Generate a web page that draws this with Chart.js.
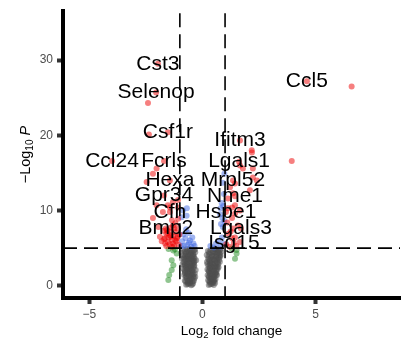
<!DOCTYPE html>
<html>
<head>
<meta charset="utf-8">
<script src="https://cdn.jsdelivr.net/npm/chart.js@4"></script>
<style>
  html, body { margin: 0; padding: 0; background: #fff; }
  canvas { display: block; }
</style>
</head>
<body>
<canvas id="volcano" width="409" height="340"></canvas>
<script>
// Not significant (grey)
const nsFC = [
  -0.72,-0.61,-0.5,-0.42,-0.66,-0.55,
  -0.78,-0.69,-0.58,-0.47,-0.38,-0.74,-0.52,-0.41,
  -0.81,-0.7,-0.6,-0.49,-0.39,-0.77,-0.63,-0.44,-0.55,
  -0.84,-0.73,-0.62,-0.5,-0.4,-0.8,-0.67,-0.56,-0.45,-0.36,-0.71,
  -0.83,-0.6,-0.49,-0.38,-0.76,-0.65,-0.54,-0.42,-0.81,-0.69,-0.58,-0.46,-0.35,
  -0.86,-0.74,-0.62,-0.51,-0.4,-0.32,-0.79,-0.67,-0.55,-0.44,-0.85,-0.33,
  -0.28,-0.3,-0.91,-0.93,-0.32,
  -0.66,-0.55,-0.45,-0.75,-0.64,-0.53,-0.43,-0.72,-0.6,-0.48,-0.36,-0.78,-0.66,-0.55,-0.44,-0.34,
  -0.79,-0.68,-0.57,-0.47,-0.37,-0.73,-0.61,-0.5,-0.39,-0.88,-0.78,-0.66,-0.55,-0.45,-0.35,
  -0.82,-0.7,-0.6,-0.49,-0.38,-0.75,-0.63,-0.52,-0.41,
  -0.73,-0.6,-0.49,-0.38,-0.7,-0.58,
  0.28,0.39,0.5,0.33,0.45,0.56,
  0.25,0.36,0.48,0.58,0.3,0.42,0.53,
  0.23,0.34,0.46,0.57,0.64,0.28,0.4,0.52,0.62,
  0.22,0.33,0.45,0.56,0.67,0.27,0.39,0.5,0.61,0.7,0.35,
  0.2,0.31,0.43,0.55,0.66,0.74,0.25,0.37,0.49,0.6,0.71,0.79,
  0.19,0.3,0.42,0.53,0.64,0.75,0.83,0.24,0.36,0.47,0.58,0.69,0.8,
  0.34,0.45,0.52,0.3,0.42,0.53,0.36,0.47,0.28,0.4,0.51,0.62,0.33,0.45,0.57,
  0.27,0.38,0.5,0.62,0.71,0.32,0.44,0.55,0.66,0.22,0.34,0.46,0.58,0.68,0.77,
  0.3,0.42,0.53,0.64,0.74,0.8,0.27,0.41,0.52,0.63,
  0.46,0.58,0.7,0.3,0.52,0.63,0.75
];
const nsP = [
  0.12,0.25,0.08,0.31,0.44,0.52,
  0.71,0.93,0.77,0.88,0.66,1.15,1.08,1.21,
  1.42,1.55,1.33,1.61,1.47,1.86,1.79,1.93,2.02,
  2.21,2.37,2.18,2.44,2.29,2.68,2.75,2.62,2.83,2.71,2.97,
  3.12,3.05,3.21,3.09,3.43,3.38,3.56,3.47,3.77,3.85,3.71,3.92,3.66,
  4.08,4.21,4.05,4.3,4.17,4.44,4.55,4.62,4.71,4.58,4.86,4.81,
  3.4,2.1,3.6,4.4,1.2,
  0.2,0.33,0.18,0.58,0.62,0.97,0.55,1.3,1.25,1.38,0.95,1.68,1.68,1.72,1.74,1.65,
  2.05,2.12,2.28,2.1,2.52,2.55,2.48,2.62,2.93,2.85,2.88,3.22,3.0,3.32,3.3,
  3.58,3.62,3.55,3.7,3.85,4.0,3.98,4.12,4.05,
  4.42,4.5,4.46,4.68,4.85,4.92,
  0.1,0.22,0.09,0.45,0.5,0.35,
  0.72,0.86,0.7,0.91,1.12,1.05,1.19,
  1.38,1.52,1.35,1.58,1.41,1.85,1.77,1.93,1.81,
  2.16,2.3,2.12,2.38,2.22,2.66,2.59,2.78,2.64,2.85,2.98,
  3.14,3.27,3.08,3.33,3.19,3.45,3.6,3.72,3.55,3.79,3.66,3.9,
  4.1,4.24,4.06,4.35,4.18,4.29,4.52,4.62,4.74,4.57,4.81,4.66,4.85,
  0.2,0.3,0.55,0.6,0.65,0.75,1.0,0.98,1.25,1.28,1.22,1.48,1.68,1.62,1.7,
  2.02,2.05,2.03,2.1,2.45,2.45,2.48,2.55,2.5,2.88,2.82,2.9,3.0,3.02,3.2,
  3.45,3.4,3.48,3.5,3.88,4.1,3.9,3.92,4.0,3.95,
  4.45,4.5,4.45,4.45,4.92,4.9,4.7
];

// Fold change only (green)
const fcFC = [-1.29,-1.14,-1.36,-1.29,-1.36,-1.47,-1.51,-1.22,-1.5, 1.51,1.44,1.51,1.3];
const fcP  = [4.7,4.3,3.4,2.74,2.08,1.42,0.75,4.85,4.9, 4.3,3.6,4.75,4.95];

// P-value only (blue)
const pvFC = [
  -0.92,-0.86,-0.7,-0.62,-0.85,-0.75,-0.55,-0.4,-0.9,-0.68,-0.5,-0.82,-0.35,-0.6,-0.95,-0.45,-0.72,-0.69,
  0.97,0.9,0.95,0.85,0.8,0.92,0.78,0.88,0.97,0.82,0.9,0.86,0.35,0.6,0.8,0.5,0.7,0.93
];
const pvP = [
  9.1,10.0,9.3,7.0,6.8,6.3,6.0,5.6,5.9,5.4,5.2,5.3,5.3,5.7,5.3,6.4,7.5,10.3,
  14.9,13.7,12.2,11.0,10.3,10.6,9.5,9.0,8.6,8.2,7.8,6.4,5.3,5.6,5.2,5.1,5.9,5.6
];

// P-value and fold change (red), unlabelled
const bothFC = [
  -2.41,-2.37,-2.47,-2.03,-1.53,-1.31,-1.08,-2.19,-1.75,-1.44,-1.57,-1.44,-1.31,-1.66,-1.53,-1.13,-1.22,-1.35,-1.88,
  -2.19,-1.08,-2.03,-1.05,-1.15,-1.25,-1.35,-1.45,-1.6,-1.72,-1.1,-1.02,-1.28,-1.5,-1.2,-1.08,-1.65,-1.8,-1.95,-1.4,
  -1.2,-1.3,-1.4,-1.55,-1.25,-1.1,-1.45,-1.6,-1.7,-1.35,
  6.6,3.95,2.19,1.66,1.79,1.44,1.22,1.35,1.13,1.44,1.66,1.31,2.23,2.41,2.1,2.23,1.13,1.44,1.31,1.57,1.35,1.44,1.66,
  1.31,1.05,1.15,1.2,1.1,1.25,1.5,2.18
];
const bothP = [
  24.3,20.1,13.8,15.6,10.7,11.1,11.4,9.0,9.8,10.4,7.4,6.7,8.0,6.3,5.8,6.3,7.1,8.7,6.5,
  14.9,10.4,10.7,5.4,5.9,5.3,6.1,5.5,6.9,7.3,7.6,6.8,6.6,6.4,8.3,8.9,5.6,5.9,7.8,7.7,
  6.0,5.6,6.5,7.0,7.6,6.5,7.2,5.3,6.2,5.2,
  26.5,16.6,17.7,16.0,15.6,13.6,13.1,12.3,11.6,10.7,10.0,10.4,14.4,14.0,12.7,15.6,10.3,9.6,9.0,8.0,7.6,6.4,5.8,
  6.3,5.5,6.9,5.2,8.4,7.2,5.3,18.0
];

// Labelled genes (also P-value and fold change)
const labelGenes = ['Cst3','Selenop','Csf1r','Ccl24','Fcrls','Hexa','Gpr34','Cfh','Bmp2',
                    'Ccl5','Ifitm3','Lgals1','Mrpl52','Nme1','Hspe1','Lgals3','Isg15'];
const labelFC = [-1.97,-2.05,-1.53,-4.0,-1.7,-1.44,-1.7,-1.44,-1.62,
                 4.62,1.66,1.62,1.35,1.44,1.04,1.7,1.39];
const labelP  = [29.5,25.7,20.4,16.6,16.6,14.0,12.0,9.8,7.6,
                 27.2,19.3,16.5,14.0,11.9,9.8,7.6,5.7];

// Cut-offs and axis ticks
const fcCutoff = 1;
const pCutoff = 5;
const xTicks = [-5, 0, 5];
const yTicks = [0, 10, 20, 30];

const FONT = '"Liberation Sans", Arial, Helvetica, sans-serif';
const toPts = (xs, ys) => xs.map((x, i) => ({ x: x, y: ys[i] }));
const fmt = v => (v < 0 ? '\u2212' + Math.abs(v) : String(v));

const overlay = {
  id: 'volcanoOverlay',
  afterDatasetsDraw(chart) {
    const ctx = chart.ctx;
    const xs = chart.scales.x, ys = chart.scales.y;
    const area = chart.chartArea;

    // dashed cut-off lines
    ctx.save();
    ctx.strokeStyle = '#000';
    ctx.lineWidth = 1.6;
    ctx.setLineDash([14, 7]);
    [-fcCutoff, fcCutoff].forEach(v => {
      const px = xs.getPixelForValue(v);
      ctx.beginPath();
      ctx.moveTo(px, area.top + 2);
      ctx.lineTo(px, area.bottom);
      ctx.stroke();
    });
    const py = ys.getPixelForValue(pCutoff);
    ctx.beginPath();
    ctx.moveTo(area.left, py);
    ctx.lineTo(area.right, py);
    ctx.stroke();
    ctx.restore();

    // gene labels
    ctx.save();
    ctx.fillStyle = '#000';
    ctx.font = '21px ' + FONT;
    ctx.textAlign = 'center';
    ctx.textBaseline = 'middle';
    labelGenes.forEach((g, i) => {
      ctx.fillText(g, xs.getPixelForValue(labelFC[i]), ys.getPixelForValue(labelP[i]));
    });
    ctx.restore();
  },
  afterDraw(chart) {
    const ctx = chart.ctx;
    const area = chart.chartArea;
    ctx.save();
    ctx.fillStyle = '#000';
    ctx.textBaseline = 'alphabetic';
    ctx.textAlign = 'left';

    // x title: Log2 fold change
    let big = '13.5px ' + FONT, small = '9.5px ' + FONT;
    ctx.font = big; const wA = ctx.measureText('Log').width;
    ctx.font = small; const wB = ctx.measureText('2').width;
    ctx.font = big; const wC = ctx.measureText(' fold change').width;
    const x0 = (area.left + area.right) / 2 - (wA + wB + wC) / 2;
    const yb = 335;
    ctx.font = big; ctx.fillText('Log', x0, yb);
    ctx.font = small; ctx.fillText('2', x0 + wA, yb + 3);
    ctx.font = big; ctx.fillText(' fold change', x0 + wA + wB, yb);

    // y title: −Log10 P
    big = '14.5px ' + FONT; small = '10px ' + FONT;
    ctx.translate(30, (area.top + area.bottom) / 2);
    ctx.rotate(-Math.PI / 2);
    ctx.font = big; const w1 = ctx.measureText('\u2212Log').width;
    ctx.font = small; const w2 = ctx.measureText('10').width;
    ctx.font = big; const w3 = ctx.measureText(' ').width;
    ctx.font = 'italic ' + big; const w4 = ctx.measureText('P').width;
    const s = -(w1 + w2 + w3 + w4) / 2;
    ctx.font = big; ctx.fillText('\u2212Log', s, 0);
    ctx.font = small; ctx.fillText('10', s + w1, 3);
    ctx.font = 'italic ' + big; ctx.fillText('P', s + w1 + w2 + w3, 0);
    ctx.restore();
  }
};

const axisCommon = {
  type: 'linear',
  grid: { drawOnChartArea: false, drawTicks: true, tickLength: 6, tickWidth: 4, tickColor: '#333' },
  border: { display: true, color: '#000', width: 4 },
  ticks: {
    color: '#4d4d4d',
    font: { family: FONT, size: 12 },
    autoSkip: false,
    maxRotation: 0,
    callback: v => fmt(v)
  }
};

new Chart(document.getElementById('volcano'), {
  type: 'scatter',
  data: {
    datasets: [
      { label: 'NS', data: toPts(nsFC, nsP), backgroundColor: 'rgba(77,77,77,0.5)', order: 4 },
      { label: 'Log2 FC', data: toPts(fcFC, fcP), backgroundColor: 'rgba(34,139,34,0.5)', order: 3 },
      { label: 'p-value', data: toPts(pvFC, pvP), backgroundColor: 'rgba(65,105,225,0.5)', order: 2 },
      { label: 'p-value and log2 FC', data: toPts(bothFC.concat(labelFC), bothP.concat(labelP)),
        backgroundColor: 'rgba(238,0,0,0.5)', order: 1 }
    ]
  },
  options: {
    responsive: false,
    animation: false,
    devicePixelRatio: 1,
    events: [],
    layout: { padding: { left: 0, top: 10, right: 9, bottom: 0 } },
    elements: { point: { radius: 3, borderWidth: 0, hoverRadius: 3 } },
    plugins: { legend: { display: false }, tooltip: { enabled: false } },
    scales: {
      x: Object.assign({}, axisCommon, {
        position: 'bottom', min: -6.17, max: 8.74,
        ticks: Object.assign({}, axisCommon.ticks, { padding: 3 }),
        afterBuildTicks(s) { s.ticks = xTicks.map(v => ({ value: v })); },
        afterFit(s) { s.height = 42; }
      }),
      y: Object.assign({}, axisCommon, {
        position: 'left', min: -1.63, max: 36.5,
        ticks: Object.assign({}, axisCommon.ticks, { padding: 4 }),
        afterBuildTicks(s) { s.ticks = yTicks.map(v => ({ value: v })); },
        afterFit(s) { s.width = 63; }
      })
    }
  },
  plugins: [overlay]
});
</script>
</body>
</html>
